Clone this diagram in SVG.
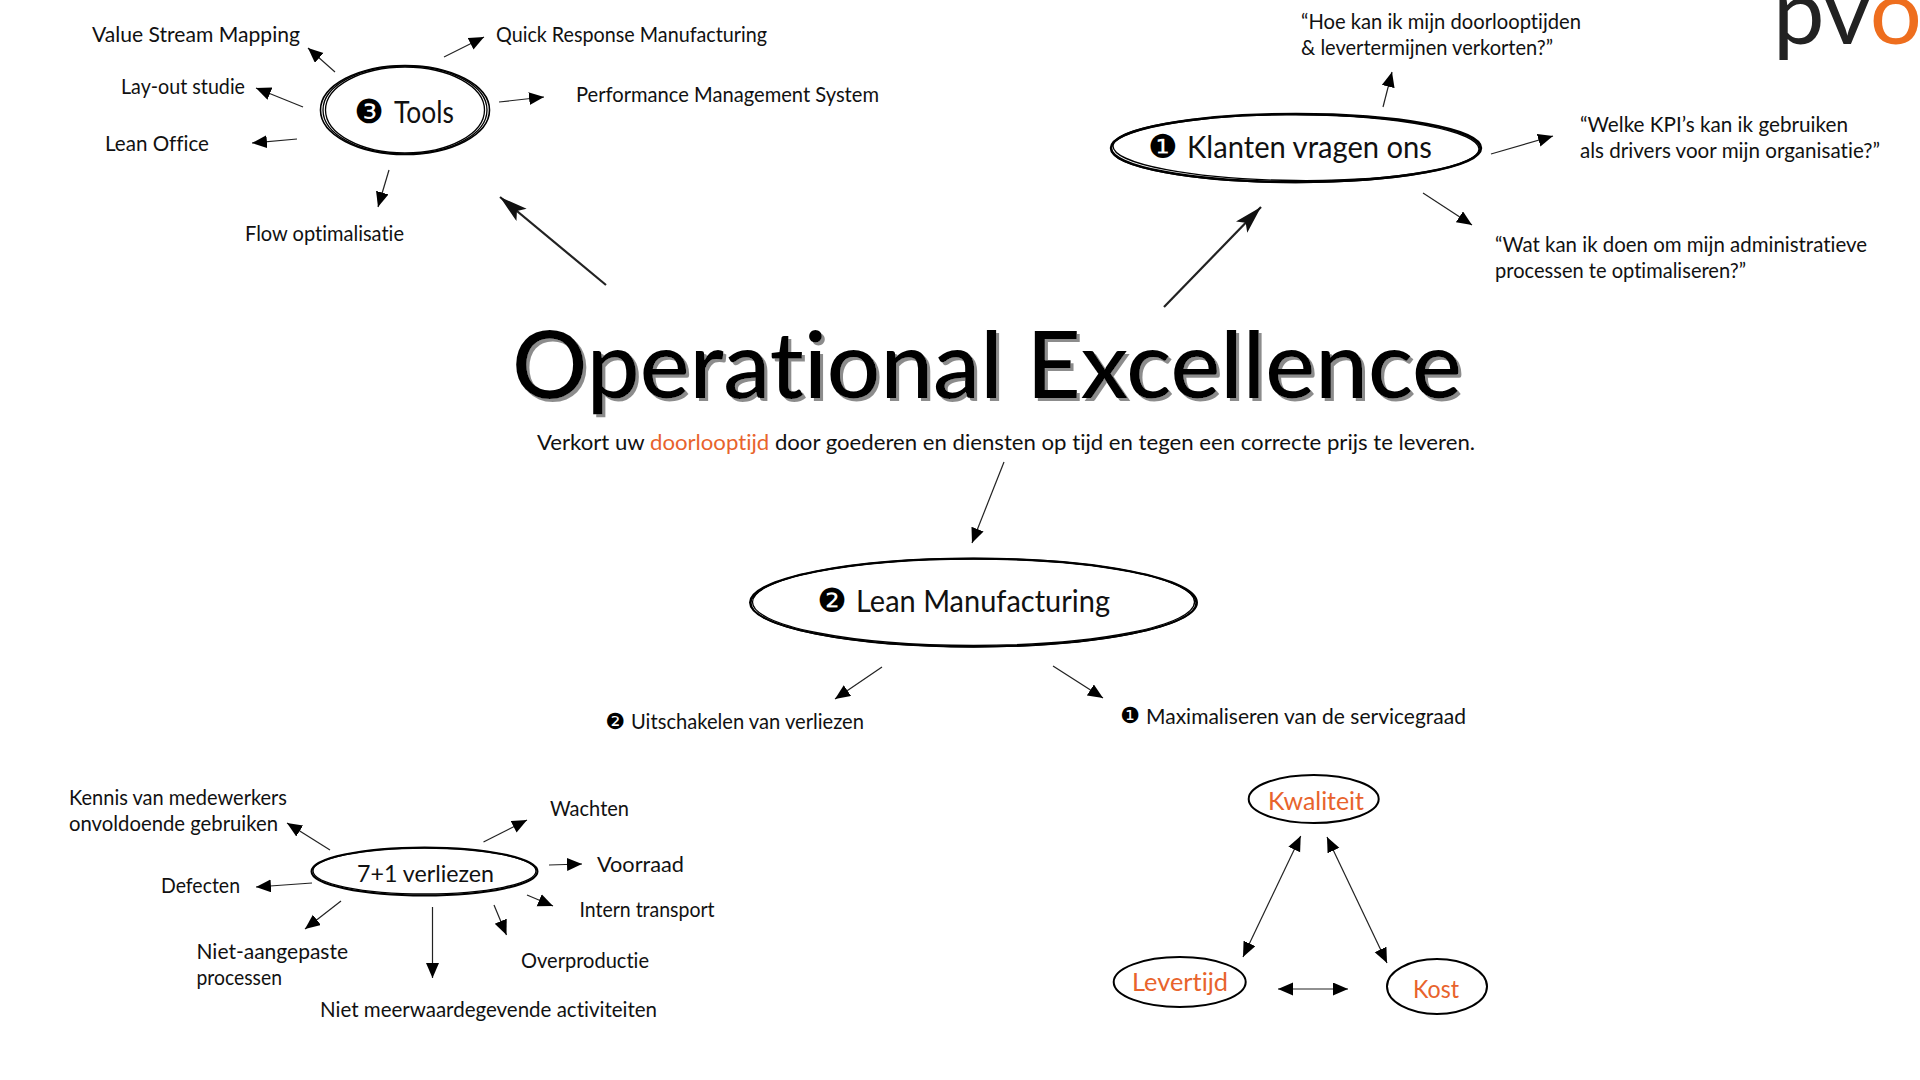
<svg xmlns="http://www.w3.org/2000/svg" width="1920" height="1080" viewBox="0 0 1920 1080">
<style>
text{font-family:"Lato","Noto Sans",sans-serif;fill:#111;font-variant-ligatures:none}
.l{font-size:21px}
.m{font-size:30px}
.o{fill:#e8632c;font-size:25px}
.b{font-family:"DejaVu Sans",sans-serif;fill:#000}
.e{fill:#fff;stroke:#000;stroke-width:2}
.e2{fill:none;stroke:#000;stroke-width:1.300}
.a{stroke:#222;stroke-width:1.2;fill:none;marker-end:url(#h)}
.d{stroke:#222;stroke-width:1.2;fill:none;marker-end:url(#h);marker-start:url(#hs)}
.big{stroke:#222;stroke-width:2.2;fill:none;marker-end:url(#bh)}
</style>
<defs>
<marker id="h" markerUnits="userSpaceOnUse" markerWidth="16" markerHeight="14" refX="15" refY="6.500" orient="auto"><path d="M0 0L15 6.500L0 13z" fill="#000"/></marker>
<marker id="hs" markerUnits="userSpaceOnUse" markerWidth="16" markerHeight="14" refX="15" refY="6.500" orient="auto-start-reverse"><path d="M0 0L15 6.500L0 13z" fill="#000"/></marker>
<marker id="bh" markerUnits="userSpaceOnUse" markerWidth="30" markerHeight="18" refX="28" refY="8" orient="auto"><path d="M0 0L28 8L0 16L6 8z" fill="#111"/></marker>
<filter id="sh" x="-5%" y="-10%" width="110%" height="125%"><feDropShadow dx="3" dy="3" stdDeviation="0.7" flood-color="#8c8c8c" flood-opacity="1"/></filter>
</defs>
<rect width="1920" height="1080" fill="#fff"/>

<g id="connectors">
<path class="a" d="M335 72L308 48"/>
<path class="a" d="M444 57L484 37"/>
<path class="a" d="M499 102L544 97"/>
<path class="a" d="M303 107L256 88"/>
<path class="a" d="M297 139L252 143"/>
<path class="a" d="M389 170L378 207"/>
<path class="big" d="M606 285L500 197"/>
<path class="a" d="M1383 107L1392 72"/>
<path class="a" d="M1491 154L1553 136"/>
<path class="a" d="M1423 193L1472 225"/>
<path class="big" d="M1164 307L1261 207"/>
<path class="a" d="M1004 462L972 543"/>
<path class="a" d="M882 667L835 699"/>
<path class="a" d="M1053 666L1103 698"/>
<path class="a" d="M330 850L287 823"/>
<path class="a" d="M483.500 842L527 820"/>
<path class="a" d="M549 865L582 864"/>
<path class="a" d="M527 895L553 906"/>
<path class="a" d="M494 905L506.500 935"/>
<path class="a" d="M432.500 907L432.500 978"/>
<path class="a" d="M341 901L305 929"/>
<path class="a" d="M312 883L256 887"/>
<path class="d" d="M1300.700 836L1243 957"/>
<path class="d" d="M1327 837L1387 963"/>
<path class="d" d="M1278 989L1348 989"/>
</g>

<g id="logo">
<text x="1773" y="44" font-size="92" style="fill:#222">pv<tspan style="fill:#ee6e1e">o</tspan></text>
</g>

<g id="title">
<text x="512" y="398" textLength="950" lengthAdjust="spacingAndGlyphs" font-size="93" filter="url(#sh)" style="fill:#000;font-weight:500">Operational Excellence</text>
</g>
<g id="subtitle">
<text class="l" x="537" y="450" textLength="938" lengthAdjust="spacingAndGlyphs">Verkort uw <tspan style="fill:#e8632c">doorlooptijd</tspan> door goederen en diensten op tijd en tegen een correcte prijs te leveren.</text>
</g>

<g id="node-tools">
<ellipse class="e" cx="405" cy="110" rx="84.500" ry="44.500" style="stroke-width:1.600"/>
<ellipse class="e2" cx="405" cy="110" rx="79.500" ry="43"/>
<ellipse class="e2" cx="405" cy="110" rx="82" ry="44"/>
<text class="b" x="369" y="123" font-size="33" text-anchor="middle">❸</text>
<text class="m" x="394" y="123" textLength="60" lengthAdjust="spacingAndGlyphs">Tools</text>
</g>
<g id="node-vsm"><text class="l" x="92" y="42" textLength="208" lengthAdjust="spacingAndGlyphs">Value Stream Mapping</text></g>
<g id="node-qrm"><text class="l" x="496" y="42" textLength="271" lengthAdjust="spacingAndGlyphs">Quick Response Manufacturing</text></g>
<g id="node-pms"><text class="l" x="576" y="102" textLength="303" lengthAdjust="spacingAndGlyphs">Performance Management System</text></g>
<g id="node-layout"><text class="l" x="121" y="94" textLength="124" lengthAdjust="spacingAndGlyphs">Lay-out studie</text></g>
<g id="node-leanoffice"><text class="l" x="105" y="151" textLength="104" lengthAdjust="spacingAndGlyphs">Lean Office</text></g>
<g id="node-flow"><text class="l" x="245" y="241" textLength="159" lengthAdjust="spacingAndGlyphs">Flow optimalisatie</text></g>

<g id="node-klanten">
<ellipse class="e" cx="1296" cy="148" rx="185" ry="34" style="stroke-width:2.500"/>
<ellipse class="e2" cx="1296" cy="147.500" rx="183" ry="33" transform="rotate(0.500 1296 148)"/>
<ellipse class="e2" cx="1295.500" cy="148.500" rx="184.500" ry="34"/>
<text class="b" x="1163" y="158" font-size="33" text-anchor="middle">❶</text>
<text class="m" x="1187" y="158" textLength="245" lengthAdjust="spacingAndGlyphs">Klanten vragen ons</text>
</g>
<g id="node-q1">
<text class="l" x="1301" y="29" textLength="280" lengthAdjust="spacingAndGlyphs">“Hoe kan ik mijn doorlooptijden</text>
<text class="l" x="1301" y="55" textLength="252" lengthAdjust="spacingAndGlyphs">&amp; levertermijnen verkorten?”</text>
</g>
<g id="node-q2">
<text class="l" x="1580" y="132" textLength="268" lengthAdjust="spacingAndGlyphs">“Welke KPI’s kan ik gebruiken</text>
<text class="l" x="1580" y="158" textLength="300" lengthAdjust="spacingAndGlyphs">als drivers voor mijn organisatie?”</text>
</g>
<g id="node-q3">
<text class="l" x="1495" y="252" textLength="372" lengthAdjust="spacingAndGlyphs">“Wat kan ik doen om mijn administratieve</text>
<text class="l" x="1495" y="278" textLength="251" lengthAdjust="spacingAndGlyphs">processen te optimaliseren?”</text>
</g>

<g id="node-lean">
<ellipse class="e" cx="973.500" cy="602.500" rx="223.500" ry="44"/>
<ellipse class="e2" cx="973.500" cy="602" rx="221" ry="43.500"/>
<ellipse class="e2" cx="973.500" cy="603" rx="222.500" ry="44"/>
<text class="b" x="832" y="612" font-size="33" text-anchor="middle">❷</text>
<text class="m" x="856" y="612" textLength="254" lengthAdjust="spacingAndGlyphs">Lean Manufacturing</text>
</g>
<g id="node-uitschakelen">
<text class="b" x="615" y="729" font-size="22" text-anchor="middle">❷</text>
<text class="l" x="631" y="729" textLength="233" lengthAdjust="spacingAndGlyphs">Uitschakelen van verliezen</text>
</g>
<g id="node-maximaliseren">
<text class="b" x="1130" y="723" font-size="22" text-anchor="middle">❶</text>
<text class="l" x="1146" y="724" textLength="320" lengthAdjust="spacingAndGlyphs">Maximaliseren van de servicegraad</text>
</g>

<g id="node-verliezen">
<ellipse class="e" cx="424.500" cy="871.500" rx="113" ry="24"/>
<ellipse class="e2" cx="424.500" cy="871" rx="111.500" ry="23"/>
<text x="357" y="882" font-size="24" textLength="137" lengthAdjust="spacingAndGlyphs">7+1 verliezen</text>
</g>
<g id="node-kennis">
<text class="l" x="69" y="805" textLength="218" lengthAdjust="spacingAndGlyphs">Kennis van medewerkers</text>
<text class="l" x="69" y="831" textLength="209" lengthAdjust="spacingAndGlyphs">onvoldoende gebruiken</text>
</g>
<g id="node-wachten"><text class="l" x="550" y="816" textLength="79" lengthAdjust="spacingAndGlyphs">Wachten</text></g>
<g id="node-voorraad"><text class="l" x="597" y="871.500" textLength="87" lengthAdjust="spacingAndGlyphs">Voorraad</text></g>
<g id="node-defecten"><text class="l" x="161" y="893" textLength="79" lengthAdjust="spacingAndGlyphs">Defecten</text></g>
<g id="node-intern"><text class="l" x="579.500" y="916.500" textLength="135" lengthAdjust="spacingAndGlyphs">Intern transport</text></g>
<g id="node-overproductie"><text class="l" x="521" y="968" textLength="128" lengthAdjust="spacingAndGlyphs">Overproductie</text></g>
<g id="node-nietaangepaste">
<text class="l" x="196.500" y="959" textLength="151.500" lengthAdjust="spacingAndGlyphs">Niet-aangepaste</text>
<text class="l" x="196.500" y="985" textLength="85.500" lengthAdjust="spacingAndGlyphs">processen</text>
</g>
<g id="node-nietmeer"><text class="l" x="320" y="1016.500" textLength="337" lengthAdjust="spacingAndGlyphs">Niet meerwaardegevende activiteiten</text></g>

<g id="node-kwaliteit">
<ellipse class="e" cx="1313.700" cy="799" rx="65" ry="24"/>
<text class="o" x="1268" y="810" textLength="96" lengthAdjust="spacingAndGlyphs">Kwaliteit</text>
</g>
<g id="node-levertijd">
<ellipse class="e" cx="1179.700" cy="982" rx="66" ry="25"/>
<text class="o" x="1132" y="991" textLength="96" lengthAdjust="spacingAndGlyphs">Levertijd</text>
</g>
<g id="node-kost">
<ellipse class="e" cx="1437" cy="986.500" rx="50" ry="27.500"/>
<text class="o" x="1413" y="998" textLength="46" lengthAdjust="spacingAndGlyphs">Kost</text>
</g>
</svg>
